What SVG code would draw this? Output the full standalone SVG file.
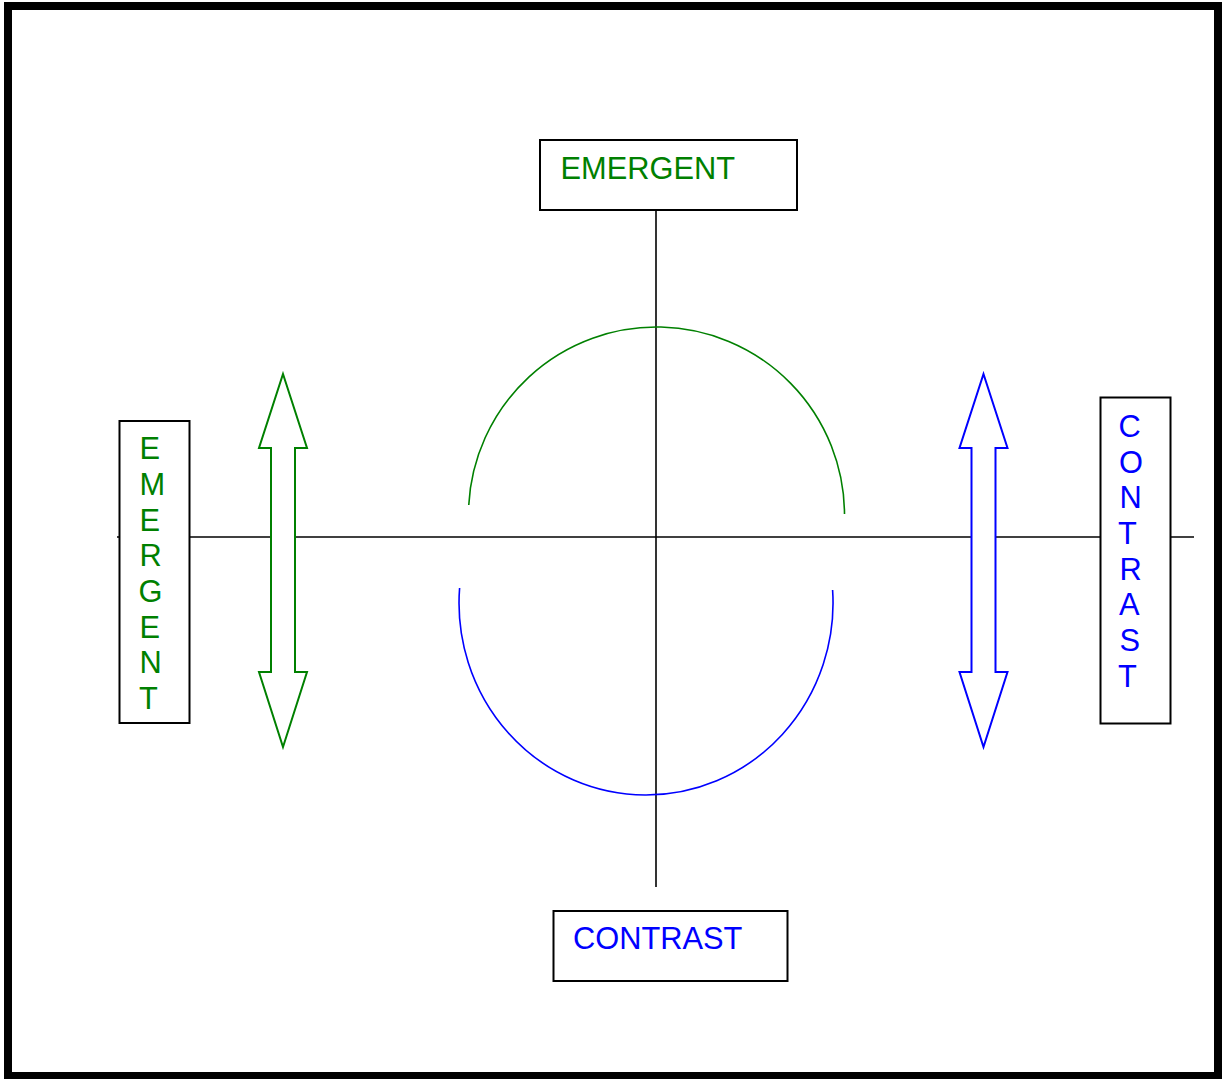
<svg xmlns="http://www.w3.org/2000/svg" width="1224" height="1079" viewBox="0 0 1224 1079">
<style>
.box{fill:#fff;stroke:#000;stroke-width:2}
.ln{stroke:#000;stroke-width:1.6;fill:none}
.g{fill:#008000}
.b{fill:#0000ff}
text{font-family:"Liberation Sans",Arial,sans-serif;font-size:30.8px}
</style>
<rect x="0" y="0" width="1224" height="1079" fill="#fff"/>
<rect x="8" y="6" width="1210" height="1070" fill="none" stroke="#000" stroke-width="8"/>
<g id="connectors">
<line class="ln" x1="117" y1="537" x2="1194" y2="537"/>
<line class="ln" x1="656" y1="205" x2="656" y2="887"/>
<path d="M 468.77 505 A 188 188 0 0 1 844.5 514" fill="none" stroke="#008000" stroke-width="1.6"/>
<path d="M 459.6 588 A 187 192 0 1 0 832.6 590" fill="none" stroke="#0000ff" stroke-width="1.6"/>
</g>
<g id="arrow-green">
<polygon points="283,374 307,448 295,448 295,672 307,672 283,747 259,672 271,672 271,448 259,448" fill="#fff" stroke="#008000" stroke-width="2"/>
</g>
<g id="arrow-blue">
<polygon points="983.5,374 1007.5,448 995.5,448 995.5,672 1007.5,672 983.5,747 959.5,672 971.5,672 971.5,448 959.5,448" fill="#fff" stroke="#0000ff" stroke-width="2"/>
</g>
<g id="node-top">
<rect class="box" x="540" y="140" width="257" height="70"/>
<text class="g" x="560.5" y="179">EMERGENT</text>
</g>
<g id="node-bottom">
<rect class="box" x="553.5" y="911" width="234" height="70"/>
<text class="b" x="573" y="949">CONTRAST</text>
</g>
<g id="node-left">
<rect class="box" x="119.5" y="421" width="70" height="302"/>
<text class="g" x="139.5">
<tspan x="139.5" y="459">E</tspan><tspan x="139.5" y="495">M</tspan><tspan x="139.5" y="530.5">E</tspan><tspan x="139.5" y="566">R</tspan><tspan x="138.5" y="602">G</tspan><tspan x="139.5" y="637.5">E</tspan><tspan x="139.5" y="673">N</tspan><tspan x="139" y="708.5">T</tspan>
</text>
</g>
<g id="node-right">
<rect class="box" x="1100.5" y="397.5" width="70" height="326"/>
<text class="b" x="1119">
<tspan x="1118.5" y="437">C</tspan><tspan x="1119" y="472.5">O</tspan><tspan x="1119.5" y="508">N</tspan><tspan x="1118" y="544">T</tspan><tspan x="1119.5" y="579.5">R</tspan><tspan x="1119" y="615">A</tspan><tspan x="1119.5" y="651">S</tspan><tspan x="1118" y="686.5">T</tspan>
</text>
</g>
</svg>
